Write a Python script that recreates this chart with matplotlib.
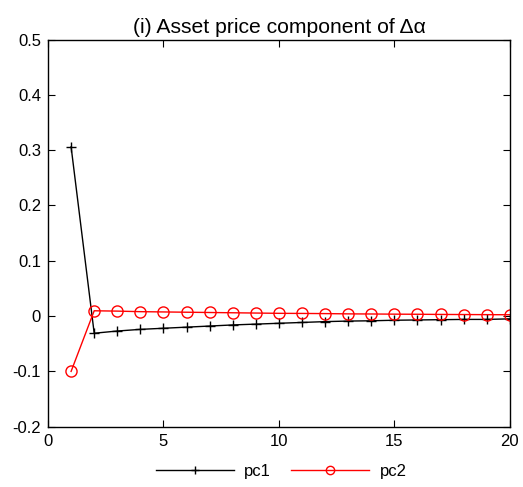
import numpy as np
import matplotlib
matplotlib.use('Agg')
import matplotlib.pyplot as plt

plt.rcParams['font.family'] = ['Liberation Sans', 'DejaVu Sans']
plt.rcParams['font.size'] = 12

# horizon
periods = list(range(1, 21))

# asset price components
pc1 = [0.306, -0.031, -0.027, -0.024, -0.022, -0.020, -0.018, -0.016, -0.0145, -0.013,
       -0.0115, -0.010, -0.009, -0.0085, -0.0075, -0.007, -0.0065, -0.006, -0.006, -0.005]
pc2 = [-0.100, 0.0096, 0.009, 0.008, 0.0075, 0.007, 0.0065, 0.006, 0.0055, 0.005,
       0.0048, 0.0045, 0.004, 0.0038, 0.0035, 0.0033, 0.003, 0.0028, 0.0026, 0.0024]

fig = plt.figure(figsize=(5.23, 4.87), dpi=100)
ax = fig.add_axes([0.0918, 0.1238, 0.883, 0.795])

ax.plot(periods, pc1, color='black', lw=1.0, marker='+', ms=7, mew=1.0, label='pc1')
ax.plot(periods, pc2, color='red', lw=1.0, marker='o', ms=8, mfc='none', mew=1.0, label='pc2')

ax.set_xlim(0, 20)
ax.set_ylim(-0.2, 0.5)
ax.set_xticks([0, 5, 10, 15, 20])
ax.set_yticks(np.arange(-0.2, 0.51, 0.1))
ax.set_yticklabels(['-0.2', '-0.1', '0', '0.1', '0.2', '0.3', '0.4', '0.5'])
ax.tick_params(direction='in', top=True, right=True, length=5, width=0.8, labelsize=12, pad=5)
for s in ax.spines.values():
    s.set_linewidth(1.0)

ax.set_title('(i) Asset price component of \u0394\u03b1', fontsize=15.2, pad=5)

ax.legend(loc='center', bbox_to_anchor=(0.505, -0.115), ncol=2, frameon=False,
          fontsize=12, handlelength=4.7, columnspacing=1.2, handletextpad=0.6,
          markerscale=0.75)

fig.savefig('out.png', dpi=100)
